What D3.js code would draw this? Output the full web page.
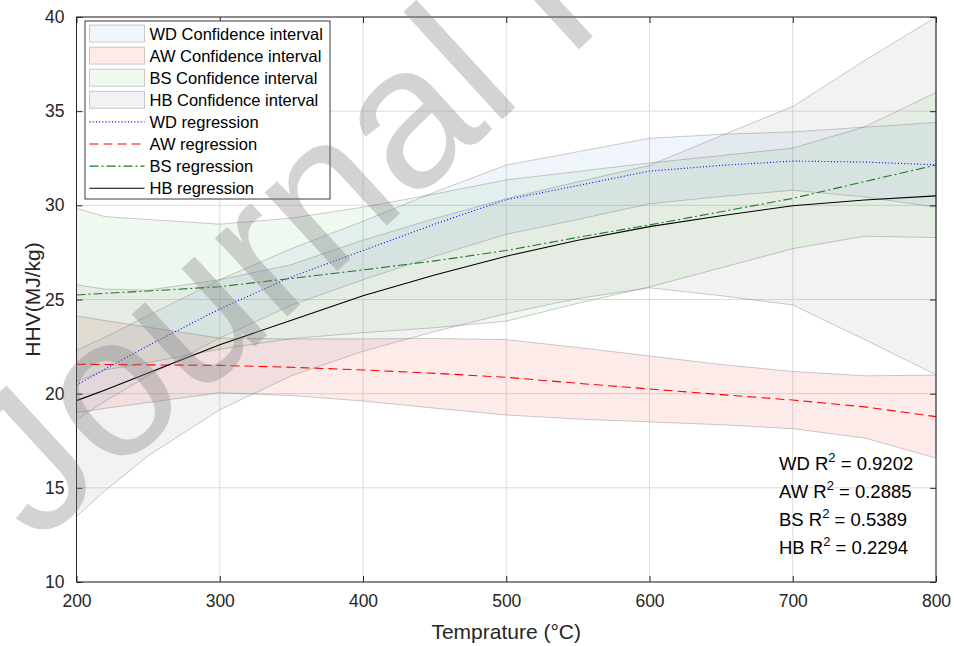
<!DOCTYPE html>
<html><head><meta charset="utf-8">
<script src="https://cdn.jsdelivr.net/npm/d3@7"></script>
<style>
body{margin:0;background:#fff;}
text{font-family:"Liberation Sans",Arial,sans-serif;}
</style></head>
<body><svg id="chart" width="954" height="646"></svg>
<script>
// ---- data ----
const temps = [200, 220, 250, 300, 350, 400, 450, 500, 550, 600, 650, 700, 750, 800];

const wdFit   = [20.46, 21.30, 22.55, 24.50, 26.20, 27.60, 29.00, 30.30, 31.05, 31.82, 32.12, 32.35, 32.30, 32.15];
const wdUpper = [22.30, 23.00, 24.15, 26.05, 27.70, 29.15, 30.70, 32.14, 32.85, 33.56, 33.77, 33.90, 34.15, 34.40];
const wdLower = [18.62, 19.60, 20.95, 22.95, 24.70, 26.05, 27.30, 28.46, 29.25, 30.08, 30.47, 30.80, 30.45, 29.90];

const awFit   = [21.56, 21.55, 21.53, 21.50, 21.40, 21.26, 21.08, 20.87, 20.55, 20.25, 19.95, 19.66, 19.30, 18.78];
const awUpper = [24.13, 23.88, 23.53, 22.95, 22.90, 22.91, 22.93, 22.87, 22.45, 22.00, 21.55, 21.18, 20.95, 20.98];
const awLower = [18.99, 19.22, 19.53, 20.05, 19.90, 19.61, 19.23, 18.87, 18.65, 18.50, 18.35, 18.14, 17.65, 16.58];

const bsFit   = [25.24, 25.33, 25.45, 25.68, 26.12, 26.57, 27.05, 27.60, 28.30, 28.96, 29.66, 30.37, 31.26, 32.14];
const bsUpper = [29.84, 29.40, 29.25, 29.00, 29.32, 29.90, 30.60, 31.35, 31.80, 32.25, 32.64, 33.04, 34.16, 35.99];
const bsLower = [20.64, 21.26, 21.65, 22.36, 22.92, 23.24, 23.50, 23.85, 24.80, 25.67, 26.68, 27.70, 28.36, 28.29];

const hbFit   = [19.63, 20.20, 21.10, 22.60, 23.90, 25.20, 26.30, 27.30, 28.15, 28.87, 29.45, 29.98, 30.28, 30.50];
const hbUpper = [25.78, 25.55, 25.50, 26.05, 26.85, 28.15, 29.30, 30.35, 31.25, 32.12, 33.70, 35.25, 37.68, 40.00];
const hbLower = [13.48, 14.85, 16.70, 19.15, 20.95, 22.25, 23.30, 24.25, 25.05, 25.62, 25.20, 24.71, 22.88, 21.00];

const xTicks = [200, 300, 400, 500, 600, 700, 800];
const yTicks = [10, 15, 20, 25, 30, 35, 40];

const seriesNames = ["WD", "AW", "BS", "HB"];
const r2Values = ["0.9202", "0.2885", "0.5389", "0.2294"];

const xLabel = "Temprature (°C)";
const yLabel = "HHV(MJ/kg)";
const watermark = "Journal Pre-proof";

// ---- layout ----
const svg = d3.select("#chart");
const L = 76.5, R = 936, T = 17, B = 582;
const x = d3.scaleLinear().domain([200, 800]).range([L, R]);
const y = d3.scaleLinear().domain([10, 40]).range([B, T]);
const axisCol = "#262626";

// grid
const grid = svg.append("g");
grid.selectAll(".gx").data(xTicks).join("line")
  .attr("x1", d => x(d)).attr("x2", d => x(d)).attr("y1", T).attr("y2", B)
  .attr("stroke", "#dcdcdc").attr("stroke-width", 1);
grid.selectAll(".gy").data(yTicks).join("line")
  .attr("x1", L).attr("x2", R).attr("y1", d => y(d)).attr("y2", d => y(d))
  .attr("stroke", "#dcdcdc").attr("stroke-width", 1);

// bands
const bands = [
  {up: wdUpper, lo: wdLower, fill: "rgba(0,80,200,0.06)"},
  {up: awUpper, lo: awLower, fill: "rgba(240,60,50,0.10)"},
  {up: bsUpper, lo: bsLower, fill: "rgba(60,180,60,0.08)"},
  {up: hbUpper, lo: hbLower, fill: "rgba(100,100,100,0.085)"}
];
const area = d3.area().x(d => x(d.t)).y0(d => y(d.lo)).y1(d => y(d.up));
bands.forEach(b => {
  const pts = temps.map((t, i) => ({t, up: b.up[i], lo: b.lo[i]}));
  svg.append("path").datum(pts).attr("d", area)
    .attr("fill", b.fill).attr("stroke", "rgba(110,110,110,0.35)").attr("stroke-width", 1);
});

// regression lines
const lineGen = d3.line().x(d => x(d.t)).y(d => y(d.v));
const fits = [
  {v: wdFit, color: "#0000ff", dash: "1,2.2", w: 1.1},
  {v: awFit, color: "#ff0000", dash: "9,5", w: 1.1},
  {v: bsFit, color: "#1f7a1f", dash: "9,3,2,3", w: 1.1},
  {v: hbFit, color: "#000000", dash: null, w: 1.1}
];
fits.forEach(f => {
  const pts = temps.map((t, i) => ({t, v: f.v[i]}));
  svg.append("path").datum(pts).attr("d", lineGen)
    .attr("fill", "none").attr("stroke", f.color).attr("stroke-width", f.w)
    .attr("stroke-dasharray", f.dash);
});

// axes box
svg.append("rect").attr("x", L).attr("y", T).attr("width", R - L).attr("height", B - T)
  .attr("fill", "none").attr("stroke", axisCol).attr("stroke-width", 1);

const xAxis = d3.axisBottom(x).tickValues(xTicks).tickSize(-6).tickPadding(13).tickFormat(d3.format("d"));
const gx = svg.append("g").attr("transform", `translate(0,${B})`).call(xAxis);
const xAxisTop = d3.axisTop(x).tickValues(xTicks).tickSize(-6).tickFormat("");
const gxt = svg.append("g").attr("transform", `translate(0,${T})`).call(xAxisTop);
const yAxis = d3.axisLeft(y).tickValues(yTicks).tickSize(-6).tickPadding(12).tickFormat(d3.format("d"));
const gy = svg.append("g").attr("transform", `translate(${L},0)`).call(yAxis);
const yAxisR = d3.axisRight(y).tickValues(yTicks).tickSize(-6).tickFormat("");
const gyr = svg.append("g").attr("transform", `translate(${R},0)`).call(yAxisR);
[gx, gxt, gy, gyr].forEach(g => {
  g.select(".domain").remove();
  g.selectAll("line").attr("stroke", axisCol);
  g.selectAll("text").attr("fill", axisCol).style("font-size", "17.5px")
   .style("font-family", '"Liberation Sans",Arial,sans-serif');
});

// axis labels
svg.append("text").attr("x", (L + R) / 2).attr("y", 639).attr("text-anchor", "middle")
  .attr("fill", axisCol).style("font-size", "21px").text(xLabel);
svg.append("text").attr("transform", `translate(39.5,${(T + B) / 2}) rotate(-90)`)
  .attr("text-anchor", "middle").attr("fill", axisCol).style("font-size", "21px").text(yLabel);

// R^2 annotations
const r2 = svg.append("g");
seriesNames.forEach((s, i) => {
  const t = r2.append("text").attr("x", 779).attr("y", 469.5 + i * 28)
    .attr("fill", "#000").style("font-size", "18.5px");
  t.append("tspan").text(s + " R");
  t.append("tspan").attr("dy", -8).style("font-size", "13px").text("2");
  t.append("tspan").attr("dy", 8).text(" = " + r2Values[i]);
});

// legend
const lg = svg.append("g");
lg.append("rect").attr("x", 85).attr("y", 21).attr("width", 245).attr("height", 178)
  .attr("fill", "#fff").attr("stroke", "#3a3a3a").attr("stroke-width", 1);
const legendItems = [
  {label: "WD Confidence interval", type: "patch", fill: "rgba(0,80,200,0.06)"},
  {label: "AW Confidence interval", type: "patch", fill: "rgba(240,60,50,0.10)"},
  {label: "BS Confidence interval", type: "patch", fill: "rgba(60,180,60,0.08)"},
  {label: "HB Confidence interval", type: "patch", fill: "rgba(100,100,100,0.085)"},
  {label: "WD regression", type: "line", f: fits[0]},
  {label: "AW regression", type: "line", f: fits[1]},
  {label: "BS regression", type: "line", f: fits[2]},
  {label: "HB regression", type: "line", f: fits[3]}
];
legendItems.forEach((it, i) => {
  const cy = 33.5 + i * 22.1;
  if (it.type === "patch") {
    lg.append("rect").attr("x", 89.5).attr("y", cy - 8.5).attr("width", 55).attr("height", 17)
      .attr("fill", it.fill).attr("stroke", "rgba(110,110,110,0.35)");
  } else {
    lg.append("line").attr("x1", 89.5).attr("x2", 144.5).attr("y1", cy).attr("y2", cy)
      .attr("stroke", it.f.color).attr("stroke-width", it.f.w).attr("stroke-dasharray", it.f.dash);
  }
  lg.append("text").attr("x", 149.5).attr("y", cy + 6).attr("fill", "#000")
    .style("font-size", "16.5px").text(it.label);
});

// watermark
svg.append("text").attr("transform", "translate(37,546) rotate(-42.5)")
  .attr("fill", "rgba(128,128,128,0.35)").style("font-size", "202px").text(watermark);
</script>
</body></html>
